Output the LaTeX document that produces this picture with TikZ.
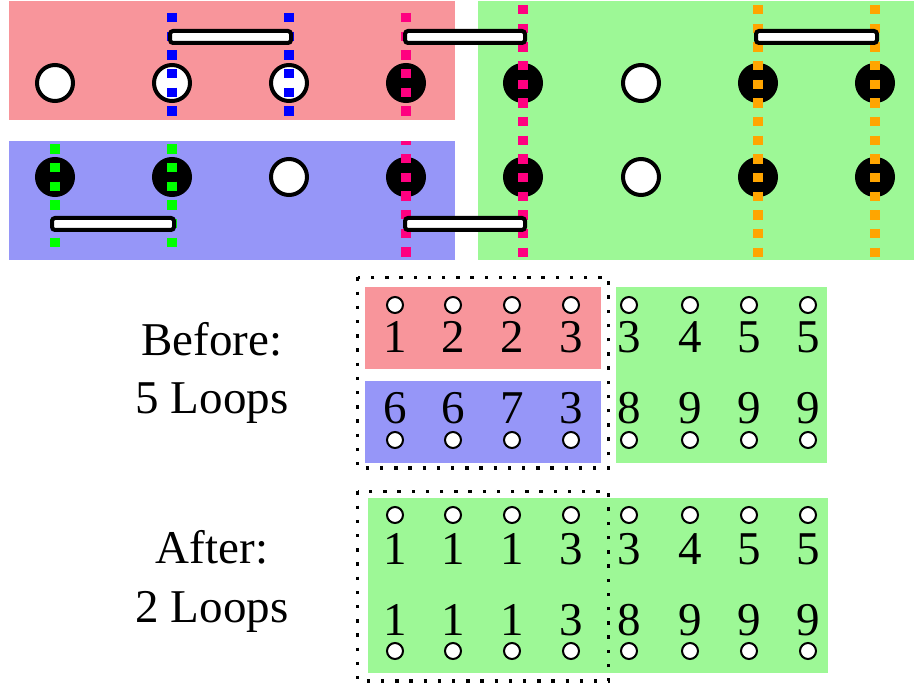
\documentclass[tikz,border=0pt]{standalone}
\usepackage{fontspec}
\setmainfont{Liberation Serif}
\definecolor{regred}{RGB}{248,149,155}
\definecolor{regblue}{RGB}{150,150,248}
\definecolor{reggreen}{RGB}{157,248,150}
\definecolor{dpink}{RGB}{255,0,128}
\definecolor{dorange}{RGB}{255,165,0}
\definecolor{dgreen}{RGB}{0,255,0}
\begin{document}
\begin{tikzpicture}[x=1pt,y=-1pt,
  bigw/.style={circle,draw=black,fill=white,line width=4pt,minimum size=36pt,inner sep=0pt},
  bigb/.style={circle,draw=black,fill=black,line width=4pt,minimum size=36pt,inner sep=0pt},
  smallc/.style={circle,draw=black,fill=white,line width=2pt,minimum size=16pt,inner sep=0pt},
  sqdash/.style={line width=9.33pt,dash pattern=on 9.33pt off 9.33pt},
  barbox/.style={draw=black,fill=white,line width=4pt,rounded corners=3pt},
  dotbox/.style={draw=black,line width=3.4pt,dash pattern=on 3.4pt off 10.8pt},
  digit/.style={font=\fontsize{47}{56}\selectfont,anchor=base,inner sep=0pt},
  lbl/.style={font=\fontsize{47}{56}\selectfont,anchor=base,inner sep=0pt}]
\useasboundingbox (0,0) rectangle (914,684);
% ---------- top section regions
\fill[regred] (9,1) rectangle (455,120);
\fill[regblue] (9,141) rectangle (455,260);
\fill[reggreen] (478,1) rectangle (914,260);
% circles
\node[bigw] (t1) at (55,83) {};
\node[bigw] (t2) at (172,83) {};
\node[bigw] (t3) at (289,83) {};
\node[bigb] (t4) at (406,83) {};
\node[bigb] (t5) at (523,83) {};
\node[bigw] (t6) at (641,83) {};
\node[bigb] (t7) at (758,83) {};
\node[bigb] (t8) at (875,83) {};
\node[bigb] (b1) at (55,177) {};
\node[bigb] (b2) at (172,177) {};
\node[bigw] (b3) at (289,177) {};
\node[bigb] (b4) at (406,177) {};
\node[bigb] (b5) at (523,177) {};
\node[bigw] (b6) at (641,177) {};
\node[bigb] (b7) at (758,177) {};
\node[bigb] (b8) at (875,177) {};
% dashed lines
\draw[sqdash,blue] (172,13) -- (172,116);
\draw[sqdash,blue] (289,13) -- (289,116);
\draw[sqdash,dpink] (406,13) -- (406,116);
\draw[sqdash,dpink,dash phase=5.7pt] (406,141) -- (406,257);
\draw[sqdash,dpink] (523,5) -- (523,257);
\draw[sqdash,dorange] (758,5) -- (758,257);
\draw[sqdash,dorange] (875,5) -- (875,257);
\draw[sqdash,dgreen] (55,144.3) -- (55,247);
\draw[sqdash,dgreen] (172,144.3) -- (172,247);
% bars
\draw[barbox] (170,31) rectangle (291,43);
\draw[barbox] (405,31) rectangle (525,43);
\draw[barbox] (756,31) rectangle (877,43);
\draw[barbox] (52,218) rectangle (174,230);
\draw[barbox] (405,218) rectangle (525,230);
% ---------- Before
\fill[regred] (365,287) rectangle (601,369);
\fill[regblue] (365,381) rectangle (601,463);
\fill[reggreen] (616,287) rectangle (827,463);
\draw[dotbox] (357.5,277.5) rectangle (608.5,468);
\node[lbl] (bl1) at (212,356) {Before:};
\node[lbl] (bl2) at (212,414) {5 Loops};
\foreach \x [count=\i] in {395,453,512,571,629,690,749,808} {
  \node[smallc] (pt\i) at (\x,305) {};
  \node[smallc] (pb\i) at (\x,440) {};
}
\foreach \x/\d [count=\i] in {395/1,453/2,512/2,571/3,629/3,690/4,749/5,808/5}
  \node[digit] (pdt\i) at (\x,353) {\d};
\foreach \x/\d [count=\i] in {395/6,453/6,512/7,571/3,629/8,690/9,749/9,808/9}
  \node[digit] (pdb\i) at (\x,424) {\d};
% ---------- After
\fill[reggreen] (368,498) rectangle (828,673);
\draw[dotbox] (357.5,491.5) rectangle (608.5,681);
\node[lbl] (al1) at (212,564) {After:};
\node[lbl] (al2) at (212,623) {2 Loops};
\foreach \x [count=\i] in {395,453,512,571,629,690,749,808} {
  \node[smallc] (qt\i) at (\x,515) {};
  \node[smallc] (qb\i) at (\x,651) {};
}
\foreach \x/\d [count=\i] in {395/1,453/1,512/1,571/3,629/3,690/4,749/5,808/5}
  \node[digit] (qdt\i) at (\x,565) {\d};
\foreach \x/\d [count=\i] in {395/1,453/1,512/1,571/3,629/8,690/9,749/9,808/9}
  \node[digit] (qdb\i) at (\x,635) {\d};
\end{tikzpicture}
\end{document}
